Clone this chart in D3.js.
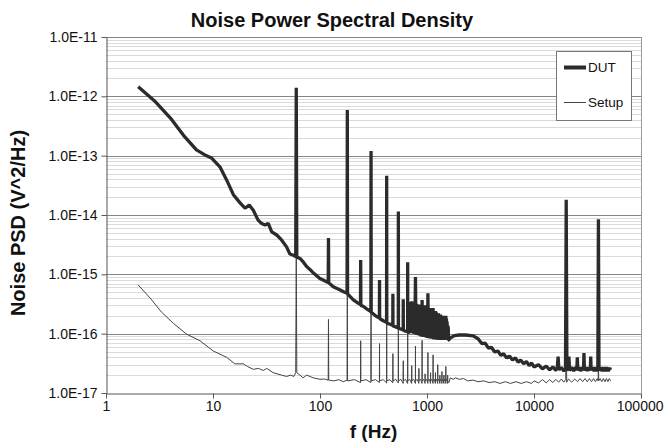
<!DOCTYPE html>
<html><head><meta charset="utf-8">
<script src="https://cdn.jsdelivr.net/npm/d3@7"></script>
<style>
html,body{margin:0;padding:0;background:#fff;}
svg{display:block;font-family:"Liberation Sans",Arial,sans-serif;}
</style></head>
<body><svg id="c" width="664" height="444"></svg>
<script>
const chartTitle = "Noise Power Spectral Density";
const xTitle = "f (Hz)";
const yTitle = "Noise PSD (V^2/Hz)";
const xTickLabels = ["1","10","100","1000","10000","100000"];
const yTickLabels = ["1.0E-17","1.0E-16","1.0E-15","1.0E-14","1.0E-13","1.0E-12","1.0E-11"];
const seriesNames = ["DUT","Setup"];

// DUT: [frequency Hz, PSD V^2/Hz]
const dutPoints = [
[2,1.45e-12],[2.9,8.1e-13],[4,4.3e-13],[5.3,2.2e-13],[7,1.25e-13],[8.4,1.03e-13],[9.7,9.1e-14],[11.6,6.5e-14],
[13.4,3.9e-14],[15.5,2.2e-14],[17.9,1.6e-14],[19.9,1.3e-14],[21.8,1.47e-14],[23.8,1.2e-14],[26.4,8.2e-15],
[28.5,7.2e-15],[30.6,6.8e-15],[32.8,7.2e-15],[35.4,5.2e-15],[39.4,4.6e-15],[43.7,3.8e-15],[48.7,2.9e-15],
[52.3,2.2e-15],[56.3,2.1e-15],[59.3,2.0e-15],[60,1.4e-12],[60.7,1.95e-15],[65,1.85e-15],[70,1.6e-15],
[75,1.35e-15],[81,1.2e-15],[86.8,1.05e-15],[93,9.5e-16],[99.7,8.5e-16],[107,8e-16],[115,7.5e-16],
[119.3,7.3e-16],[120,4.1e-15],[120.7,7.2e-16],[133,6.2e-16],[153,5.5e-16],[166,5.1e-16],[179,4.8e-16],
[180,5.9e-13],[181,4.7e-16],[205,3.7e-16],[225,3.3e-16],[239,3.1e-16],[240,1.74e-15],[241,3e-16],
[253,2.9e-16],[275,2.6e-16],[299,2.35e-16],[300,1.2e-13],[301,2.3e-16],[320,2.1e-16],[337,1.95e-16],
[359,1.85e-16],[360,8e-16],[361,1.8e-16],[390,1.65e-16],[419,1.55e-16],[420,4.6e-14],[421,1.5e-16],
[450,1.45e-16],[479,1.38e-16],[480,4.7e-16],[481,1.35e-16],[510,1.3e-16],[539,1.25e-16],[540,1.15e-14],
[541,1.23e-16],[570,1.2e-16],[599,1.15e-16],[600,3.8e-16],[601,1.15e-16],[630,1.1e-16],[659,1.08e-16],
[660,1.6e-15],[661,1.07e-16],
[690,1.05e-16],[700,3.4e-16],[710,1.03e-16],[720,3.5e-16],[730,1.02e-16],[740,3.3e-16],[750,1e-16],
[760,3.3e-16],[770,9.9e-17],[780,9e-16],[790,9.7e-17],[800,3.2e-16],[810,9.5e-17],[820,3.1e-16],
[830,9.4e-17],[840,3.1e-16],[850,9.3e-17],[860,3e-16],[870,9.1e-17],[880,3e-16],[890,9e-17],
[900,3.7e-16],[910,8.9e-17],[920,3e-16],[930,8.8e-17],[940,2.9e-16],[950,8.8e-17],[960,3e-16],
[970,8.7e-17],[980,2.8e-16],[990,8.6e-17],[1000,2.8e-16],[1010,8.5e-17],[1020,4.8e-16],[1030,8.5e-17],
[1040,2.7e-16],[1050,8.4e-17],[1060,2.7e-16],[1070,8.3e-17],[1080,2.7e-16],[1090,8.3e-17],[1100,2.6e-16],
[1110,8.2e-17],[1120,2.5e-16],[1130,8.2e-17],[1140,2.7e-16],[1150,8.1e-17],[1160,2.4e-16],[1170,8e-17],
[1180,2.3e-16],[1190,8e-17],[1200,2.4e-16],[1210,8e-17],[1220,2.3e-16],[1230,7.9e-17],[1240,2.2e-16],
[1250,7.9e-17],[1260,2.2e-16],[1270,7.9e-17],[1280,2.2e-16],[1290,7.8e-17],[1300,2.1e-16],[1310,7.8e-17],
[1320,2.1e-16],[1330,7.8e-17],[1340,2.1e-16],[1350,7.8e-17],[1360,2e-16],[1370,7.8e-17],[1380,2e-16],
[1390,7.8e-17],[1400,2e-16],[1410,7.8e-17],[1420,2e-16],[1430,7.8e-17],[1440,2e-16],[1450,7.8e-17],
[1460,2e-16],[1470,7.8e-17],[1480,1.9e-16],[1490,7.8e-17],[1500,2e-16],[1510,7.8e-17],[1520,1.8e-16],
[1530,7.8e-17],[1540,1.6e-16],[1550,7.8e-17],[1560,1.4e-16],[1570,7.8e-17],[1580,1.3e-16],[1590,7.8e-17],
[1600,7.8e-17],[1630,8.3e-17],[1800,9.3e-17],[2000,9.5e-17],[2300,9.5e-17],[2700,9.2e-17],
[3000,8.2e-17],[3250,6.8e-17],[3500,6.9e-17],[3750,5.7e-17],[4000,5.9e-17],[4300,4.9e-17],[4600,5.1e-17],
[4900,4.3e-17],[5200,4.6e-17],[5550,3.9e-17],[5900,4.2e-17],[6300,3.6e-17],[6700,3.9e-17],[7100,3.3e-17],
[7500,3.6e-17],[8000,3.1e-17],[8500,3.4e-17],[9000,2.9e-17],[9500,3.2e-17],[10000,2.75e-17],[11000,3e-17],
[12000,2.55e-17],[13000,2.85e-17],[14000,2.45e-17],[15000,2.75e-17],[16000,2.4e-17],[16500,2.7e-17],
[16800,4.1e-17],[17100,2.45e-17],[18000,2.7e-17],[19000,2.35e-17],[19700,2.6e-17],[20000,1.8e-14],
[20300,2.4e-17],[20900,2.65e-17],[21200,4.1e-17],[21500,2.4e-17],[22500,2.7e-17],[23500,2.35e-17],
[24500,2.7e-17],[25100,2.4e-17],[25400,4e-17],[25700,2.4e-17],[26500,2.7e-17],[27500,2.35e-17],
[28300,2.7e-17],[29000,2.4e-17],[29300,4.7e-17],[29600,2.4e-17],[30500,2.7e-17],[31500,2.35e-17],
[32500,2.7e-17],[33600,2.4e-17],[33900,4.1e-17],[34200,2.4e-17],[35200,2.7e-17],[36500,2.35e-17],
[37500,2.7e-17],[38500,2.35e-17],[39500,2.6e-17],[40000,8.5e-15],[40500,2.4e-17],[42000,2.7e-17],
[43500,2.35e-17],[45000,2.7e-17],[46500,2.35e-17],[48000,2.7e-17],[49500,2.35e-17],[51000,2.65e-17],
[52000,2.45e-17]
];

// Setup: [frequency Hz, PSD V^2/Hz]
const setupPoints = [
[2,6.6e-16],[2.58,4e-16],[3.31,2.3e-16],[4.25,1.5e-16],[5.67,9.8e-17],[7.56,7.6e-17],[10.06,5.1e-17],
[13.4,4e-17],[16,3.1e-17],[19.2,3.1e-17],[21,2.8e-17],[23.8,2.5e-17],[26.5,2.6e-17],[29.5,2.4e-17],
[31.8,2.6e-17],[36.5,2.2e-17],[43.8,2e-17],[48.7,1.9e-17],[53,2e-17],[57,1.9e-17],[59.3,2.2e-17],
[60,2e-15],[60.7,2.2e-17],[65,2e-17],[69.5,1.8e-17],[75,2e-17],[86.7,1.8e-17],[100,1.7e-17],
[110,1.72e-17],[119.3,1.65e-17],[120,1.74e-16],[120.7,1.65e-17],[135,1.6e-17],[150,1.68e-17],
[165,1.55e-17],[179,1.65e-17],[180,5e-16],[181,1.6e-17],[210,1.68e-17],[239,1.5e-17],[240,7.6e-17],
[241,1.6e-17],[270,1.68e-17],[299,1.5e-17],[300,3e-16],[301,1.6e-17],[330,1.68e-17],[359,1.5e-17],
[360,6.8e-17],[361,1.6e-17],[390,1.68e-17],[419,1.48e-17],[420,2e-16],[421,1.6e-17],[450,1.68e-17],
[479,1.48e-17],[480,4.6e-17],[481,1.6e-17],[510,1.7e-17],[539,1.48e-17],[540,1.5e-16],[541,1.6e-17],
[570,1.7e-17],[599,1.45e-17],[600,3.5e-17],[601,1.6e-17],[630,1.7e-17],[659,1.45e-17],[660,1.05e-16],
[661,1.6e-17],[690,1.7e-17],[719,1.45e-17],[720,2.9e-17],[721,1.6e-17],[750,1.7e-17],[779,1.45e-17],
[780,6.2e-17],[781,1.6e-17],[810,1.7e-17],[839,1.45e-17],[840,2.6e-17],[841,1.6e-17],[870,1.7e-17],
[899,1.45e-17],[900,7.7e-17],[901,1.6e-17],[930,1.7e-17],[959,1.45e-17],[960,2.1e-17],[961,1.6e-17],
[990,1.7e-17],[1019,1.45e-17],[1020,4.8e-17],[1021,1.6e-17],[1050,1.7e-17],[1079,1.45e-17],
[1080,2.2e-17],[1081,1.6e-17],[1110,1.7e-17],[1139,1.45e-17],[1140,4.4e-17],[1141,1.6e-17],
[1170,1.7e-17],[1199,1.45e-17],[1200,2.2e-17],[1201,1.6e-17],[1230,1.7e-17],[1259,1.45e-17],
[1260,3e-17],[1261,1.6e-17],[1290,1.7e-17],[1319,1.45e-17],[1320,2e-17],[1321,1.6e-17],[1350,1.7e-17],
[1379,1.45e-17],[1380,2.3e-17],[1381,1.6e-17],[1410,1.7e-17],[1439,1.45e-17],[1440,2e-17],[1441,1.6e-17],
[1470,1.7e-17],[1499,1.45e-17],[1500,2.8e-17],[1501,1.6e-17],[1530,1.7e-17],[1559,1.45e-17],
[1560,2e-17],[1561,1.6e-17],[1600,1.5e-17],[1650,1.8e-17],[1750,1.7e-17],[1850,1.8e-17],[2000,1.7e-17],
[2200,1.75e-17],[2400,1.6e-17],[2700,1.65e-17],[3000,1.55e-17],[3400,1.6e-17],[3800,1.5e-17],
[4300,1.55e-17],[4800,1.45e-17],[5400,1.55e-17],[6000,1.45e-17],[6800,1.55e-17],[7600,1.45e-17],
[8500,1.55e-17],[9500,1.45e-17],[10000,1.6e-17],[11000,1.48e-17],[12000,1.68e-17],[13000,1.48e-17],
[14000,1.68e-17],[15000,1.5e-17],[16000,1.7e-17],[17000,1.52e-17],[18000,1.72e-17],[19000,1.52e-17],
[19800,1.7e-17],[20000,1e-15],[20200,1.52e-17],[21000,1.72e-17],[22500,1.52e-17],[24000,1.72e-17],
[25500,1.55e-17],[27000,1.75e-17],[28500,1.55e-17],[30000,1.75e-17],[31500,1.55e-17],[33000,1.75e-17],
[34500,1.55e-17],[36000,1.75e-17],[37500,1.55e-17],[39000,1.75e-17],[39800,1.6e-17],[40000,5e-16],
[40200,1.6e-17],[41500,1.75e-17],[43000,1.55e-17],[44500,1.75e-17],[46000,1.55e-17],[47500,1.75e-17],
[49000,1.55e-17],[50500,1.75e-17],[52000,1.6e-17]
];

const W = 664, H = 444;
const pLeft = 106, pRight = 641, pTop = 37, pBottom = 393;
const svg = d3.select("#c");
const xVals = xTickLabels.map(Number);
const yVals = yTickLabels.map(Number);

const x = d3.scaleLog().domain([xVals[0], xVals[xVals.length-1]]).range([pLeft, pRight]);
const y = d3.scaleLog().domain([yVals[0], yVals[yVals.length-1]]).range([pBottom, pTop]);

svg.append("rect").attr("x",0).attr("y",0).attr("width",W).attr("height",H).attr("fill","#fff");

// minor gridlines
const minor = y.ticks().filter(v => !yVals.some(t => Math.abs(t - v) / t < 1e-6));
svg.append("g").selectAll("line").data(minor).join("line")
  .attr("x1", pLeft).attr("x2", pRight)
  .attr("y1", d => Math.round(y(d)) + 0.5).attr("y2", d => Math.round(y(d)) + 0.5)
  .attr("stroke", "#dadada").attr("stroke-width", 1);
// major gridlines
svg.append("g").selectAll("line").data(yVals.slice(1)).join("line")
  .attr("x1", pLeft).attr("x2", pRight)
  .attr("y1", d => Math.round(y(d)) + 0.5).attr("y2", d => Math.round(y(d)) + 0.5)
  .attr("stroke", "#858585").attr("stroke-width", 1);
// right border
svg.append("line").attr("x1", pRight + 0.5).attr("x2", pRight + 0.5).attr("y1", pTop).attr("y2", pBottom)
  .attr("stroke", "#9a9a9a");

const line = d3.line().x(d => x(d[0])).y(d => y(d[1]));

svg.append("path").datum(setupPoints).attr("d", line)
  .attr("fill", "none").attr("stroke", "#444").attr("stroke-width", 1);
svg.append("path").datum(dutPoints).attr("d", line)
  .attr("fill", "none").attr("stroke", "#2b2b2b").attr("stroke-width", 3.3)
  .attr("stroke-linejoin", "bevel");

// axes
const yAxis = d3.axisLeft(y).tickValues(yVals).tickFormat((d, i) => yTickLabels[i])
  .tickSize(5).tickPadding(4).tickSizeOuter(0);
const gy = svg.append("g").attr("transform", `translate(${pLeft + 0.5},0)`).call(yAxis);
const xAxis = d3.axisBottom(x).tickValues(xVals).tickFormat((d, i) => xTickLabels[i])
  .tickSize(5).tickPadding(3).tickSizeOuter(0);
const gx = svg.append("g").attr("transform", `translate(0,${pBottom + 0.5})`).call(xAxis);
[gx, gy].forEach(g => {
  g.select(".domain").attr("stroke", "#555");
  g.selectAll(".tick line").attr("stroke", "#555");
  g.selectAll("text").attr("font-size", 14).attr("fill", "#111")
    .attr("font-family", "'Liberation Sans', Arial, sans-serif");
});
// keep the last x label inside the picture
gx.selectAll(".tick text").filter((d, i, n) => i === n.length - 1)
  .attr("text-anchor", "end").attr("x", W - 1 - pRight);

// titles
svg.append("text").attr("x", W / 2).attr("y", 27).attr("text-anchor", "middle")
  .attr("font-size", 20).attr("font-weight", "bold").attr("fill", "#111").text(chartTitle);
svg.append("text").attr("x", (pLeft + pRight) / 2).attr("y", 438).attr("text-anchor", "middle")
  .attr("font-size", 19).attr("font-weight", "bold").attr("fill", "#111").text(xTitle);
svg.append("text").attr("transform", `translate(25,${(pTop + pBottom) / 2 + 8}) rotate(-90)`)
  .attr("text-anchor", "middle").attr("font-size", 20).attr("font-weight", "bold").attr("fill", "#111")
  .text(yTitle);

// legend
const lg = svg.append("g");
lg.append("rect").attr("x", 556.5).attr("y", 51.5).attr("width", 75).attr("height", 69)
  .attr("fill", "#fff").attr("stroke", "#777");
const legendStyles = [{w: 4, c: "#2b2b2b", yy: 67.5}, {w: 1, c: "#444", yy: 102.5}];
seriesNames.forEach((name, i) => {
  const s = legendStyles[i];
  lg.append("line").attr("x1", 564).attr("x2", 586).attr("y1", s.yy).attr("y2", s.yy)
    .attr("stroke", s.c).attr("stroke-width", s.w);
  lg.append("text").attr("x", 588).attr("y", s.yy).attr("dy", "0.36em")
    .attr("font-size", 13.5).attr("fill", "#111").text(name);
});
</script></body></html>
